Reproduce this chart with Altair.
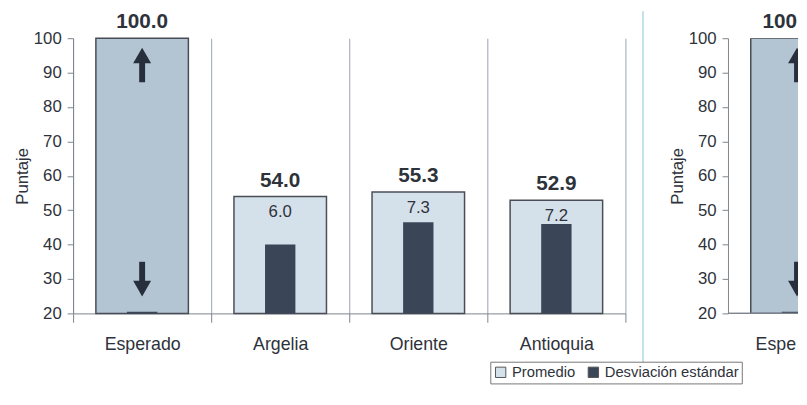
import altair as alt
import pandas as pd

# ---- data ----
categorias = ["Esperado", "Argelia", "Oriente", "Antioquia"]
promedio = [100.0, 54.0, 55.3, 52.9]
desviacion = [2.1, 6.0, 7.3, 7.2]
series = ["Promedio", "Desviación estándar"]
ticks_y = [20, 30, 40, 50, 60, 70, 80, 90, 100]
# hidden secondary axis used by the standard-deviation bars
sec_min, sec_max = 2, 18

# ---- styles ----
LIGHT = "#d5e1ea"
ESP = "#b3c4d3"
DARK = "#3b4558"
ARROW = "#272e3c"
EDGE = "#4a4d55"
GRID = "#9aa3ad"
AXC = "#7d848c"
TXT = "#2e323a"
CYAN = "#c2e2e6"
FONT = "Liberation Sans"
PLOT_H = 279
STEP = 140

df = pd.DataFrame({"categoria": categorias, "promedio": promedio, "desviacion": desviacion})

color_scale = alt.Scale(domain=series, range=[LIGHT, DARK])
legend = alt.Legend(orient="none", legendX=423, legendY=328, direction="horizontal",
                    title=None, symbolType="square", symbolSize=110,
                    symbolStrokeColor="#555555", symbolStrokeWidth=1,
                    labelFontSize=15, labelColor=TXT, labelFont=FONT,
                    strokeColor="#777777", fillColor="white", padding=3,
                    columnPadding=10, labelOffset=4)

yaxis = alt.Axis(title="Puntaje", values=ticks_y, tickCount=20, grid=False, domainColor=AXC,
                 tickColor=AXC, tickSize=6, labelPadding=6, labelFontSize=17,
                 labelOverlap=False, titleFontSize=17, titleFontWeight="normal",
                 titleColor=TXT, labelColor=TXT, titlePadding=2, labelFont=FONT,
                 titleFont=FONT)
yscale = alt.Scale(domain=[20, 100], zero=False, nice=False, clamp=True)


def Y(field):
    return alt.Y(field, scale=yscale, axis=yaxis)


def panel(width, partial):
    base = alt.Chart(df)
    if partial:
        xs = alt.Scale(domain=categorias, paddingInner=0, paddingOuter=0,
                       range=[0, STEP * len(categorias)])
        xaxis = None
    else:
        xs = alt.Scale(domain=categorias, paddingInner=0, paddingOuter=0)
        xaxis = alt.Axis(title=None, tickBand="extent", grid=True, gridColor=GRID,
                         gridWidth=1, domainColor=AXC, tickColor=AXC, tickSize=9,
                         labelPadding=14, labelFontSize=18, labelColor=TXT,
                         labelAngle=0, labelFont=FONT)
    x = alt.X("categoria:N", sort=categorias, scale=xs, axis=xaxis)
    esperado = base.transform_filter("datum.categoria == 'Esperado'").transform_calculate(
        up0="87.2", up1="93.5", uphead="95.0", dn0="35.0", dn1="28.7", dnhead="27.2")

    bar_prom = base.transform_calculate(serie="'Promedio'").mark_bar(
        width=alt.RelativeBandSize(0.67), stroke=EDGE, strokeWidth=1.5, clip=partial
    ).encode(
        x=x, y=Y("promedio:Q"), y2=alt.datum(20),
        color=alt.condition("datum.categoria == 'Esperado'", alt.value(ESP),
                            alt.Color("serie:N", scale=color_scale, legend=legend)),
    )
    dark = base.transform_calculate(
        serie="'Desviación estándar'",
        y_sec=f"20 + (datum.desviacion - {sec_min}) * 80 / ({sec_max} - {sec_min})",
    ).mark_bar(width=alt.RelativeBandSize(0.22), clip=partial).encode(
        x=x, y=Y("y_sec:Q"), y2=alt.datum(20),
        color=alt.Color("serie:N", scale=color_scale, legend=legend),
    )
    up_shaft = esperado.mark_rule(color=ARROW, strokeWidth=6, clip=partial).encode(
        x=x, y=Y("up0:Q"), y2="up1:Q")
    up_head = esperado.mark_point(shape="triangle-up", size=330, filled=True, opacity=1,
                                  color=ARROW, clip=partial).encode(x=x, y=Y("uphead:Q"))
    dn_shaft = esperado.mark_rule(color=ARROW, strokeWidth=6, clip=partial).encode(
        x=x, y=Y("dn0:Q"), y2="dn1:Q")
    dn_head = esperado.mark_point(shape="triangle-down", size=330, filled=True, opacity=1,
                                  color=ARROW, clip=partial).encode(x=x, y=Y("dnhead:Q"))
    layers = [bar_prom, dark, up_shaft, up_head, dn_shaft, dn_head]

    if partial:
        t_prom = esperado.mark_text(
            baseline="bottom", align="left", dx=-35, dy=-6, fontSize=21, fontWeight="bold",
            color=TXT, font=FONT, limit=36, ellipsis="\u200b"
        ).encode(x=x, y=Y("promedio:Q"), text=alt.Text("promedio:Q", format=".1f"))
        t_cat = esperado.mark_text(
            baseline="top", align="left", dx=-42, fontSize=18, color=TXT, font=FONT,
            limit=43, ellipsis="\u200b"
        ).encode(x=x, y=alt.value(PLOT_H + 23), text="categoria:N")
        x_line = base.mark_rule(color=AXC, strokeWidth=1).encode(
            x=alt.value(0), x2=alt.value("width"), y=alt.value(PLOT_H))
        layers += [t_prom, t_cat, x_line]
    else:
        t_prom = base.mark_text(baseline="bottom", dy=-6, fontSize=21, fontWeight="bold",
                                color=TXT, font=FONT).encode(
            x=x, y=Y("promedio:Q"), text=alt.Text("promedio:Q", format=".1f"))
        t_desv = base.transform_filter("datum.categoria != 'Esperado'").mark_text(
            baseline="top", dy=8, fontSize=17, color=TXT, font=FONT).encode(
            x=x, y=Y("promedio:Q"), text=alt.Text("desviacion:Q", format=".1f"))
        cyan = base.mark_rule(color=CYAN, strokeWidth=1.5).encode(
            x=alt.value(578), y=alt.value(-27), y2=alt.value(PLOT_H + 50))
        layers += [t_prom, t_desv, cyan]

    return alt.layer(*layers).properties(width=width, height=PLOT_H)


left = panel(STEP * len(categorias), False)
right = panel(71, True)

chart = alt.hconcat(left, right, spacing=24).properties(
    padding={"left": 5, "top": 0, "right": 0, "bottom": 0}
).configure_view(stroke=None).configure_axisY(labelOverlap=False)

chart.save("out.html", embed_options={"renderer": "svg", "actions": False})
